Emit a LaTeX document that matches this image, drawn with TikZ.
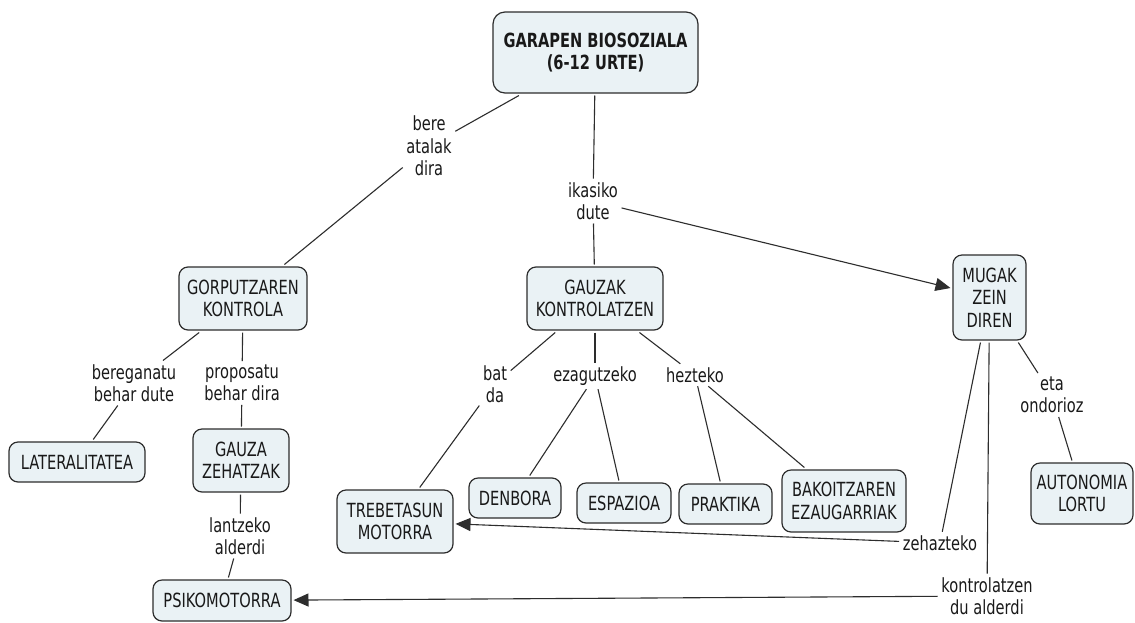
\documentclass[tikz,border=0pt]{standalone}
\usepackage{fontspec}
\setmainfont{DejaVu Sans}[FakeStretch=0.75]
\usetikzlibrary{arrows.meta}
\definecolor{boxfill}{RGB}{234,242,245}
\definecolor{boxline}{RGB}{45,45,45}
\definecolor{txtcol}{RGB}{25,25,25}
\newcommand{\mapfont}{\fontsize{19.5}{22.5}\selectfont}
\begin{document}
\begin{tikzpicture}[x=1pt,y=-1pt,
  concept/.style={draw=boxline,fill=boxfill,line width=1.2pt,rounded corners=9pt,align=center,inner sep=0pt,outer sep=2.5pt,text=txtcol,font=\mapfont},
  linklabel/.style={align=center,inner sep=3.5pt,text=txtcol,font=\mapfont},
  conn/.style={draw=boxline,line width=1.1pt},
  arr/.style={conn,-{Triangle[length=15pt,width=13pt]}}]
\fill[white] (0,0) rectangle (1135,622);
\useasboundingbox (0,0) rectangle (1135,622);

% concepts
\node[concept,rounded corners=12pt,minimum width=205pt,minimum height=81pt,font=\mapfont\bfseries] (garapen) at (595.5,52.5) {GARAPEN BIOSOZIALA\\(6-12 URTE)};
\node[concept,minimum width=128pt,minimum height=63pt] (gorp) at (243,298.5) {GORPUTZAREN\\KONTROLA};
\node[concept,minimum width=136pt,minimum height=63pt] (gauzak) at (595,298.5) {GAUZAK\\KONTROLATZEN};
\node[concept,minimum width=73pt,minimum height=85pt] (mugak) at (989.5,297.5) {MUGAK\\ZEIN\\DIREN};
\node[concept,minimum width=136pt,minimum height=40pt] (later) at (77,462) {LATERALITATEA};
\node[concept,minimum width=96pt,minimum height=63pt] (gauza) at (241,460.5) {GAUZA\\ZEHATZAK};
\node[concept,minimum width=138pt,minimum height=41pt] (psiko) at (222,600.5) {PSIKOMOTORRA};
\node[concept,minimum width=116pt,minimum height=63pt] (treb) at (395,521.5) {TREBETASUN\\MOTORRA};
\node[concept,minimum width=92pt,minimum height=40pt] (denbora) at (515,498) {DENBORA};
\node[concept,minimum width=94pt,minimum height=40pt] (espazioa) at (624,503) {ESPAZIOA};
\node[concept,minimum width=93pt,minimum height=40pt] (praktika) at (725.5,504) {PRAKTIKA};
\node[concept,minimum width=124pt,minimum height=62pt] (bakoitz) at (844,501) {BAKOITZAREN\\EZAUGARRIAK};
\node[concept,minimum width=102pt,minimum height=61pt] (autonomia) at (1082,493.5) {AUTONOMIA\\LORTU};

% linking phrases
\node[linklabel] (bere) at (429,146) {bere\\atalak\\dira};
\node[linklabel] (ikasiko) at (593,201) {ikasiko\\dute};
\node[linklabel] (bereg) at (134,383) {bereganatu\\behar dute};
\node[linklabel] (propo) at (242,383) {proposatu\\behar dira};
\node[linklabel] (lantzeko) at (240,536) {lantzeko\\alderdi};
\node[linklabel] (batda) at (495,384) {bat\\da};
\node[linklabel] (ezag) at (595,376) {ezagutzeko};
\node[linklabel] (hezteko) at (695,375) {hezteko};
\node[linklabel] (eta) at (1052,395) {eta\\ondorioz};
\node[linklabel] (zehaz) at (940,543) {zehazteko};
\node[linklabel] (kontrol) at (987,596) {kontrolatzen\\du alderdi};

% connectors
\draw[conn] (garapen) -- (bere);
\draw[conn] (bere) -- (gorp);
\draw[conn] (garapen) -- (ikasiko);
\draw[conn] (ikasiko) -- (gauzak);
\draw[arr] (ikasiko) -- (mugak);
\draw[conn] (gorp) -- (bereg);
\draw[conn] (bereg) -- (later);
\draw[conn] (gorp) -- (propo);
\draw[conn] (propo) -- (gauza);
\draw[conn] (gauza) -- (lantzeko);
\draw[conn] (lantzeko) -- (psiko);
\draw[conn] (gauzak) -- (batda);
\draw[conn] (batda) -- (treb);
\draw[conn] (gauzak) -- (ezag);
\draw[conn] (ezag) -- (denbora);
\draw[conn] (ezag) -- (espazioa);
\draw[conn] (gauzak) -- (hezteko);
\draw[conn] (hezteko) -- (praktika);
\draw[conn] (hezteko) -- (bakoitz);
\draw[conn] (mugak) -- (eta);
\draw[conn] (eta) -- (autonomia);
\draw[conn] (mugak) -- (zehaz);
\draw[arr] (zehaz) -- (treb);
\draw[conn] (mugak) -- (kontrol);
\draw[arr] (kontrol) -- (psiko);
\end{tikzpicture}
\end{document}
